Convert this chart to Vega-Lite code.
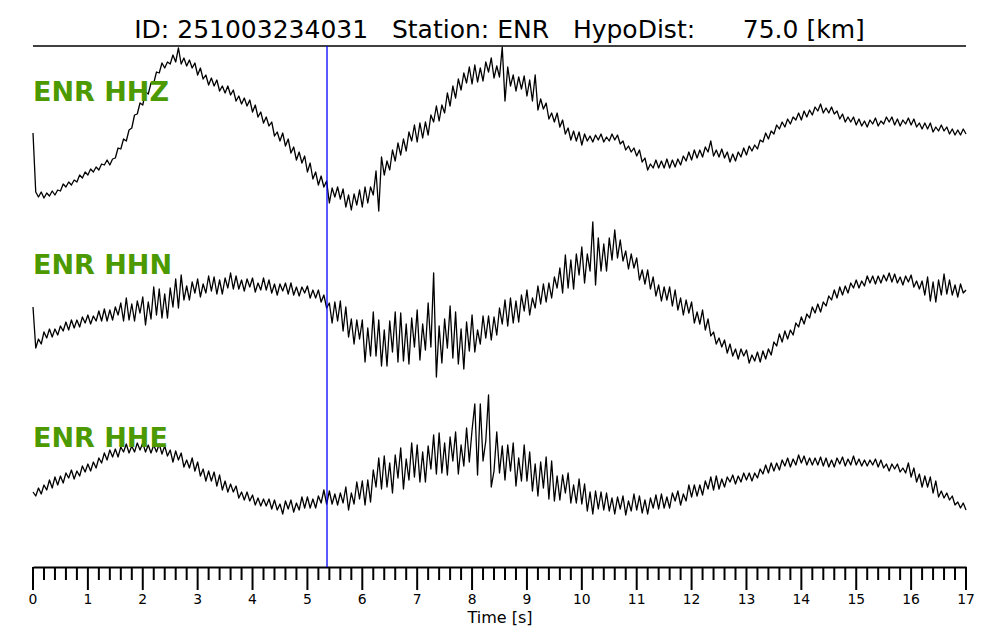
{
"$schema": "https://vega.github.io/schema/vega-lite/v6.json",
"width": 933, "height": 521,
"autosize": {"type": "none"},
"padding": {"left": 33, "top": 46, "right": 34, "bottom": 73},
"background": "white",
"config": {"view": {"stroke": null}},
"title": {"text": "ID: 251003234031\u00a0\u00a0\u00a0Station: ENR\u00a0\u00a0\u00a0HypoDist:\u00a0\u00a0\u00a0\u00a0\u00a0\u00a075.0 [km]", "font": "DejaVu Sans", "fontSize": 25, "fontWeight": "normal", "color": "black", "anchor": "middle", "frame": "group", "offset": 2},
"datasets": {
"major": [{"s":0},{"s":1},{"s":2},{"s":3},{"s":4},{"s":5},{"s":6},{"s":7},{"s":8},{"s":9},{"s":10},{"s":11},{"s":12},{"s":13},{"s":14},{"s":15},{"s":16},{"s":17}],
"minor": [{"s":0.2},{"s":0.4},{"s":0.6},{"s":0.8},{"s":1.2},{"s":1.4},{"s":1.6},{"s":1.8},{"s":2.2},{"s":2.4},{"s":2.6},{"s":2.8},{"s":3.2},{"s":3.4},{"s":3.6},{"s":3.8},{"s":4.2},{"s":4.4},{"s":4.6},{"s":4.8},{"s":5.2},{"s":5.4},{"s":5.6},{"s":5.8},{"s":6.2},{"s":6.4},{"s":6.6},{"s":6.8},{"s":7.2},{"s":7.4},{"s":7.6},{"s":7.8},{"s":8.2},{"s":8.4},{"s":8.6},{"s":8.8},{"s":9.2},{"s":9.4},{"s":9.6},{"s":9.8},{"s":10.2},{"s":10.4},{"s":10.6},{"s":10.8},{"s":11.2},{"s":11.4},{"s":11.6},{"s":11.8},{"s":12.2},{"s":12.4},{"s":12.6},{"s":12.8},{"s":13.2},{"s":13.4},{"s":13.6},{"s":13.8},{"s":14.2},{"s":14.4},{"s":14.6},{"s":14.8},{"s":15.2},{"s":15.4},{"s":15.6},{"s":15.8},{"s":16.2},{"s":16.4},{"s":16.6},{"s":16.8}],
"w": [
{"t":0,"z":0,"n":0,"e":-11},{"t":0.05,"z":-59,"n":-41,"e":-15},{"t":0.1,"z":-64,"n":-32,"e":-7},{"t":0.15,"z":-59,"n":-37,"e":-13},{"t":0.2,"z":-65,"n":-25,"e":-4},{"t":0.25,"z":-60,"n":-31,"e":-9},{"t":0.3,"z":-63,"n":-22,"e":1},{"t":0.35,"z":-58,"n":-30,"e":-7},{"t":0.4,"z":-62,"n":-22,"e":4},{"t":0.45,"z":-57,"n":-28,"e":-4},
{"t":0.5,"z":-58,"n":-19,"e":5},{"t":0.55,"z":-51,"n":-24,"e":-2},{"t":0.6,"z":-54,"n":-15,"e":8},{"t":0.65,"z":-49,"n":-23,"e":3},{"t":0.7,"z":-52,"n":-13,"e":11},{"t":0.75,"z":-47,"n":-21,"e":2},{"t":0.8,"z":-49,"n":-13,"e":10},{"t":0.85,"z":-42,"n":-20,"e":5},{"t":0.9,"z":-45,"n":-10,"e":15},{"t":0.95,"z":-39,"n":-16,"e":9},
{"t":1,"z":-42,"n":-8,"e":17},{"t":1.05,"z":-36,"n":-17,"e":10},{"t":1.1,"z":-39,"n":-9,"e":19},{"t":1.15,"z":-34,"n":-14,"e":13},{"t":1.2,"z":-37,"n":-4,"e":23},{"t":1.25,"z":-31,"n":-14,"e":18},{"t":1.3,"z":-32,"n":-2,"e":28},{"t":1.35,"z":-27,"n":-14,"e":21},{"t":1.4,"z":-32,"n":-3,"e":31},{"t":1.45,"z":-26,"n":-13,"e":24},
{"t":1.5,"z":-25,"n":0,"e":32},{"t":1.55,"z":-15,"n":-8,"e":24},{"t":1.6,"z":-16,"n":4,"e":34},{"t":1.65,"z":-6,"n":-14,"e":29},{"t":1.7,"z":-8,"n":9,"e":37},{"t":1.75,"z":3,"n":-13,"e":28},{"t":1.8,"z":5,"n":3,"e":35},{"t":1.85,"z":18,"n":-14,"e":29},{"t":1.9,"z":19,"n":6,"e":38},{"t":1.95,"z":30,"n":-6,"e":31},
{"t":2,"z":28,"n":10,"e":38},{"t":2.05,"z":41,"n":-18,"e":29},{"t":2.1,"z":39,"n":5,"e":36},{"t":2.15,"z":50,"n":-12,"e":28},{"t":2.2,"z":50,"n":20,"e":36},{"t":2.25,"z":61,"n":-8,"e":29},{"t":2.3,"z":60,"n":18,"e":37},{"t":2.35,"z":70,"n":-11,"e":27},{"t":2.4,"z":65,"n":13,"e":35},{"t":2.45,"z":71,"n":-11,"e":25},
{"t":2.5,"z":69,"n":19,"e":31},{"t":2.55,"z":78,"n":0,"e":19},{"t":2.6,"z":71,"n":28,"e":30},{"t":2.65,"z":85,"n":-1,"e":21},{"t":2.7,"z":69,"n":32,"e":28},{"t":2.75,"z":75,"n":7,"e":14},{"t":2.8,"z":67,"n":21,"e":21},{"t":2.85,"z":73,"n":7,"e":13},{"t":2.9,"z":65,"n":25,"e":23},{"t":2.95,"z":70,"n":14,"e":10},
{"t":3,"z":58,"n":28,"e":19},{"t":3.05,"z":65,"n":10,"e":5},{"t":3.1,"z":54,"n":23,"e":12},{"t":3.15,"z":58,"n":14,"e":0},{"t":3.2,"z":48,"n":31,"e":10},{"t":3.25,"z":55,"n":16,"e":0},{"t":3.3,"z":47,"n":30,"e":9},{"t":3.35,"z":53,"n":13,"e":-5},{"t":3.4,"z":42,"n":27,"e":6},{"t":3.45,"z":47,"n":13,"e":-9},
{"t":3.5,"z":40,"n":29,"e":0},{"t":3.55,"z":47,"n":19,"e":-11},{"t":3.6,"z":38,"n":34,"e":-3},{"t":3.65,"z":43,"n":18,"e":-11},{"t":3.7,"z":32,"n":31,"e":-5},{"t":3.75,"z":37,"n":18,"e":-17},{"t":3.8,"z":29,"n":27,"e":-11},{"t":3.85,"z":35,"n":16,"e":-19},{"t":3.9,"z":27,"n":28,"e":-11},{"t":3.95,"z":33,"n":20,"e":-20},
{"t":4,"z":21,"n":29,"e":-14},{"t":4.05,"z":28,"n":15,"e":-24},{"t":4.1,"z":16,"n":24,"e":-17},{"t":4.15,"z":21,"n":17,"e":-25},{"t":4.2,"z":10,"n":29,"e":-18},{"t":4.25,"z":16,"n":17,"e":-25},{"t":4.3,"z":7,"n":27,"e":-18},{"t":4.35,"z":11,"n":14,"e":-28},{"t":4.4,"z":-3,"n":23,"e":-19},{"t":4.45,"z":1,"n":12,"e":-29},
{"t":4.5,"z":-8,"n":23,"e":-23},{"t":4.55,"z":0,"n":16,"e":-33},{"t":4.6,"z":-13,"n":24,"e":-20},{"t":4.65,"z":-6,"n":13,"e":-28},{"t":4.7,"z":-20,"n":24,"e":-19},{"t":4.75,"z":-14,"n":12,"e":-31},{"t":4.8,"z":-27,"n":20,"e":-22},{"t":4.85,"z":-19,"n":11,"e":-29},{"t":4.9,"z":-30,"n":20,"e":-16},{"t":4.95,"z":-23,"n":14,"e":-27},
{"t":5,"z":-39,"n":21,"e":-16},{"t":5.05,"z":-30,"n":9,"e":-27},{"t":5.1,"z":-46,"n":17,"e":-18},{"t":5.15,"z":-39,"n":9,"e":-27},{"t":5.2,"z":-52,"n":17,"e":-15},{"t":5.25,"z":-43,"n":5,"e":-22},{"t":5.3,"z":-54,"n":12,"e":-9},{"t":5.35,"z":-48,"n":-1,"e":-23},{"t":5.4,"z":-70,"n":4,"e":-10},{"t":5.45,"z":-55,"n":-16,"e":-23},
{"t":5.5,"z":-64,"n":5,"e":-13},{"t":5.55,"z":-54,"n":-14,"e":-24},{"t":5.6,"z":-66,"n":6,"e":-12},{"t":5.65,"z":-56,"n":-24,"e":-22},{"t":5.7,"z":-74,"n":0,"e":-6},{"t":5.75,"z":-62,"n":-30,"e":-29},{"t":5.8,"z":-77,"n":-12,"e":-12},{"t":5.85,"z":-61,"n":-37,"e":-23},{"t":5.9,"z":-72,"n":-13,"e":-1},{"t":5.95,"z":-57,"n":-32,"e":-18},
{"t":6,"z":-74,"n":-13,"e":0},{"t":6.05,"z":-54,"n":-55,"e":-24},{"t":6.1,"z":-70,"n":-21,"e":1},{"t":6.15,"z":-54,"n":-49,"e":-21},{"t":6.2,"z":-62,"n":-5,"e":11},{"t":6.25,"z":-38,"n":-49,"e":-6},{"t":6.3,"z":-78,"n":-13,"e":23},{"t":6.35,"z":-24,"n":-59,"e":-8},{"t":6.4,"z":-42,"n":-23,"e":25},{"t":6.45,"z":-28,"n":-59,"e":-6},
{"t":6.5,"z":-37,"n":-14,"e":18},{"t":6.55,"z":-17,"n":-45,"e":-12},{"t":6.6,"z":-28,"n":-5,"e":26},{"t":6.65,"z":-10,"n":-55,"e":3},{"t":6.7,"z":-22,"n":-6,"e":33},{"t":6.75,"z":-6,"n":-54,"e":-8},{"t":6.8,"z":-18,"n":-17,"e":22},{"t":6.85,"z":1,"n":-57,"e":1},{"t":6.9,"z":-8,"n":-11,"e":38},{"t":6.95,"z":8,"n":-40,"e":4},
{"t":7,"z":-9,"n":-3,"e":36},{"t":7.05,"z":10,"n":-53,"e":-1},{"t":7.1,"z":-5,"n":-17,"e":29},{"t":7.15,"z":11,"n":-43,"e":-1},{"t":7.2,"z":-2,"n":4,"e":35},{"t":7.25,"z":18,"n":-40,"e":12},{"t":7.3,"z":11,"n":34,"e":46},{"t":7.35,"z":27,"n":-70,"e":7},{"t":7.4,"z":12,"n":-19,"e":48},{"t":7.45,"z":28,"n":-56,"e":8},
{"t":7.5,"z":20,"n":-12,"e":38},{"t":7.55,"z":40,"n":-41,"e":6},{"t":7.6,"z":27,"n":1,"e":44},{"t":7.65,"z":47,"n":-51,"e":20},{"t":7.7,"z":35,"n":-5,"e":49},{"t":7.75,"z":54,"n":-57,"e":7},{"t":7.8,"z":43,"n":-22,"e":36},{"t":7.85,"z":60,"n":-62,"e":15},{"t":7.9,"z":50,"n":-15,"e":53},{"t":7.95,"z":66,"n":-44,"e":19},
{"t":8,"z":49,"n":-8,"e":51},{"t":8.05,"z":68,"n":-45,"e":77},{"t":8.1,"z":51,"n":-23,"e":6},{"t":8.15,"z":65,"n":-37,"e":77},{"t":8.2,"z":52,"n":-9,"e":20},{"t":8.25,"z":71,"n":-31,"e":40},{"t":8.3,"z":61,"n":-9,"e":86},{"t":8.35,"z":75,"n":-33,"e":-6},{"t":8.4,"z":55,"n":-10,"e":10},{"t":8.45,"z":67,"n":-28,"e":49},
{"t":8.5,"z":56,"n":-1,"e":8},{"t":8.55,"z":86,"n":-17,"e":35},{"t":8.6,"z":32,"n":7,"e":1},{"t":8.65,"z":66,"n":-19,"e":36},{"t":8.7,"z":47,"n":9,"e":10},{"t":8.75,"z":58,"n":-16,"e":38},{"t":8.8,"z":42,"n":6,"e":-5},{"t":8.85,"z":56,"n":-15,"e":23},{"t":8.9,"z":44,"n":12,"e":0},{"t":8.95,"z":57,"n":-4,"e":36},
{"t":9,"z":37,"n":17,"e":0},{"t":9.05,"z":53,"n":-8,"e":29},{"t":9.1,"z":32,"n":9,"e":-10},{"t":9.15,"z":58,"n":-1,"e":17},{"t":9.2,"z":23,"n":21,"e":-15},{"t":9.25,"z":34,"n":3,"e":19},{"t":9.3,"z":24,"n":23,"e":-7},{"t":9.35,"z":30,"n":5,"e":24},{"t":9.4,"z":14,"n":24,"e":-18},{"t":9.45,"z":20,"n":9,"e":20},
{"t":9.5,"z":11,"n":30,"e":-20},{"t":9.55,"z":20,"n":19,"e":5},{"t":9.6,"z":6,"n":39,"e":-19},{"t":9.65,"z":13,"n":14,"e":6},{"t":9.7,"z":-1,"n":52,"e":-12},{"t":9.75,"z":5,"n":19,"e":8},{"t":9.8,"z":-7,"n":47,"e":-22},{"t":9.85,"z":2,"n":18,"e":-4},{"t":9.9,"z":-8,"n":53,"e":-22},{"t":9.95,"z":1,"n":32,"e":2},
{"t":10,"z":-12,"n":60,"e":-23},{"t":10.05,"z":-1,"n":24,"e":-3},{"t":10.1,"z":-8,"n":53,"e":-30},{"t":10.15,"z":-3,"n":36,"e":-11},{"t":10.2,"z":-9,"n":85,"e":-33},{"t":10.25,"z":-2,"n":22,"e":-10},{"t":10.3,"z":-7,"n":69,"e":-28},{"t":10.35,"z":-1,"n":36,"e":-11},{"t":10.4,"z":-9,"n":63,"e":-29},{"t":10.45,"z":-4,"n":36,"e":-12},
{"t":10.5,"z":-8,"n":69,"e":-30},{"t":10.55,"z":-1,"n":47,"e":-17},{"t":10.6,"z":-7,"n":77,"e":-33},{"t":10.65,"z":-2,"n":49,"e":-16},{"t":10.7,"z":-11,"n":67,"e":-28},{"t":10.75,"z":-8,"n":46,"e":-15},{"t":10.8,"z":-17,"n":56,"e":-34},{"t":10.85,"z":-13,"n":38,"e":-20},{"t":10.9,"z":-19,"n":53,"e":-30},{"t":10.95,"z":-15,"n":39,"e":-13},
{"t":11,"z":-23,"n":49,"e":-29},{"t":11.05,"z":-17,"n":27,"e":-15},{"t":11.1,"z":-29,"n":37,"e":-32},{"t":11.15,"z":-25,"n":23,"e":-19},{"t":11.2,"z":-37,"n":37,"e":-33},{"t":11.25,"z":-31,"n":18,"e":-17},{"t":11.3,"z":-35,"n":30,"e":-27},{"t":11.35,"z":-27,"n":11,"e":-14},{"t":11.4,"z":-35,"n":22,"e":-28},{"t":11.45,"z":-28,"n":6,"e":-13},
{"t":11.5,"z":-35,"n":20,"e":-27},{"t":11.55,"z":-26,"n":7,"e":-16},{"t":11.6,"z":-35,"n":20,"e":-27},{"t":11.65,"z":-27,"n":1,"e":-12},{"t":11.7,"z":-34,"n":17,"e":-20},{"t":11.75,"z":-26,"n":-3,"e":-10},{"t":11.8,"z":-32,"n":9,"e":-24},{"t":11.85,"z":-23,"n":-8,"e":-13},{"t":11.9,"z":-28,"n":7,"e":-20},{"t":11.95,"z":-19,"n":-6,"e":-4},
{"t":12,"z":-27,"n":5,"e":-16},{"t":12.05,"z":-17,"n":-16,"e":-4},{"t":12.1,"z":-25,"n":-5,"e":-15},{"t":12.15,"z":-17,"n":-17,"e":-4},{"t":12.2,"z":-24,"n":-3,"e":-14},{"t":12.25,"z":-14,"n":-23,"e":0},{"t":12.3,"z":-19,"n":-12,"e":-8},{"t":12.35,"z":-8,"n":-29,"e":4},{"t":12.4,"z":-23,"n":-25,"e":-9},{"t":12.45,"z":-17,"n":-37,"e":5},
{"t":12.5,"z":-24,"n":-31,"e":-8},{"t":12.55,"z":-16,"n":-40,"e":2},{"t":12.6,"z":-25,"n":-33,"e":-6},{"t":12.65,"z":-19,"n":-46,"e":4},{"t":12.7,"z":-29,"n":-37,"e":-1},{"t":12.75,"z":-21,"n":-49,"e":6},{"t":12.8,"z":-28,"n":-42,"e":-3},{"t":12.85,"z":-19,"n":-52,"e":5},{"t":12.9,"z":-24,"n":-42,"e":-1},{"t":12.95,"z":-15,"n":-49,"e":8},
{"t":13,"z":-22,"n":-43,"e":1},{"t":13.05,"z":-13,"n":-56,"e":8},{"t":13.1,"z":-18,"n":-48,"e":0},{"t":13.15,"z":-12,"n":-54,"e":8},{"t":13.2,"z":-16,"n":-45,"e":3},{"t":13.25,"z":-7,"n":-55,"e":12},{"t":13.3,"z":-9,"n":-44,"e":7},{"t":13.35,"z":0,"n":-52,"e":16},{"t":13.4,"z":-6,"n":-42,"e":8},{"t":13.45,"z":2,"n":-48,"e":18},
{"t":13.5,"z":-1,"n":-35,"e":10},{"t":13.55,"z":8,"n":-39,"e":18},{"t":13.6,"z":4,"n":-27,"e":11},{"t":13.65,"z":11,"n":-35,"e":21},{"t":13.7,"z":6,"n":-24,"e":15},{"t":13.75,"z":14,"n":-32,"e":23},{"t":13.8,"z":9,"n":-23,"e":14},{"t":13.85,"z":16,"n":-28,"e":22},{"t":13.9,"z":13,"n":-16,"e":16},{"t":13.95,"z":20,"n":-20,"e":26},
{"t":14,"z":13,"n":-10,"e":18},{"t":14.05,"z":22,"n":-17,"e":25},{"t":14.1,"z":16,"n":-7,"e":16},{"t":14.15,"z":23,"n":-11,"e":23},{"t":14.2,"z":18,"n":0,"e":16},{"t":14.25,"z":26,"n":-6,"e":23},{"t":14.3,"z":22,"n":3,"e":16},{"t":14.35,"z":29,"n":-5,"e":24},{"t":14.4,"z":20,"n":5,"e":15},{"t":14.45,"z":25,"n":1,"e":23},
{"t":14.5,"z":20,"n":11,"e":14},{"t":14.55,"z":26,"n":7,"e":21},{"t":14.6,"z":19,"n":17,"e":14},{"t":14.65,"z":22,"n":9,"e":23},{"t":14.7,"z":14,"n":20,"e":17},{"t":14.75,"z":19,"n":12,"e":24},{"t":14.8,"z":11,"n":21,"e":15},{"t":14.85,"z":16,"n":14,"e":22},{"t":14.9,"z":11,"n":24,"e":16},{"t":14.95,"z":16,"n":19,"e":25},
{"t":15,"z":8,"n":27,"e":16},{"t":15.05,"z":14,"n":19,"e":22},{"t":15.1,"z":7,"n":26,"e":15},{"t":15.15,"z":12,"n":21,"e":21},{"t":15.2,"z":6,"n":31,"e":15},{"t":15.25,"z":13,"n":24,"e":21},{"t":15.3,"z":9,"n":31,"e":16},{"t":15.35,"z":15,"n":23,"e":22},{"t":15.4,"z":7,"n":31,"e":14},{"t":15.45,"z":12,"n":24,"e":21},
{"t":15.5,"z":9,"n":32,"e":13},{"t":15.55,"z":16,"n":26,"e":17},{"t":15.6,"z":11,"n":34,"e":10},{"t":15.65,"z":16,"n":25,"e":17},{"t":15.7,"z":8,"n":33,"e":12},{"t":15.75,"z":14,"n":24,"e":17},{"t":15.8,"z":7,"n":30,"e":9},{"t":15.85,"z":13,"n":22,"e":13},{"t":15.9,"z":9,"n":31,"e":8},{"t":15.95,"z":15,"n":25,"e":18},
{"t":16,"z":8,"n":32,"e":4},{"t":16.05,"z":14,"n":20,"e":13},{"t":16.1,"z":6,"n":26,"e":-1},{"t":16.15,"z":10,"n":18,"e":7},{"t":16.2,"z":4,"n":26,"e":-6},{"t":16.25,"z":10,"n":12,"e":5},{"t":16.3,"z":4,"n":30,"e":-6},{"t":16.35,"z":10,"n":6,"e":4},{"t":16.4,"z":1,"n":25,"e":-12},{"t":16.45,"z":6,"n":5,"e":0},
{"t":16.5,"z":2,"n":27,"e":-16},{"t":16.55,"z":8,"n":12,"e":-10},{"t":16.6,"z":2,"n":33,"e":-17},{"t":16.65,"z":6,"n":13,"e":-12},{"t":16.7,"z":-1,"n":27,"e":-19},{"t":16.75,"z":4,"n":12,"e":-15},{"t":16.8,"z":-2,"n":22,"e":-24},{"t":16.85,"z":3,"n":10,"e":-21},{"t":16.9,"z":-2,"n":23,"e":-27},{"t":16.95,"z":4,"n":14,"e":-22},
{"t":17,"z":-1,"n":17,"e":-29}
]},
"layer": [
  {"data": {"name": "w"},
   "mark": {"type": "line", "color": "black", "strokeWidth": 1.3, "strokeJoin": "round", "clip": false},
   "encoding": {
    "x": {"field": "t", "type": "quantitative", "scale": {"domain": [0, 17], "nice": false, "zero": false},
      "axis": {"orient": "bottom", "values": [0, 17], "grid": false, "domain": true, "domainColor": "black", "domainWidth": 2, "ticks": false, "labels": false, "title": "Time [s]", "titleFont": "DejaVu Sans", "titleFontSize": 16, "titleFontWeight": "normal", "titleColor": "black", "titlePadding": 42}},
    "y": {"field": "z", "type": "quantitative", "scale": {"domain": [-434, 87], "nice": false, "zero": false}, "axis": null}
   }},
  {"data": {"values": [{"label": "ENR HHZ"}]},
   "mark": {"type": "text", "align": "left", "baseline": "alphabetic", "font": "DejaVu Sans", "fontWeight": "bold", "fontSize": 27, "color": "#4c9a00"},
   "encoding": {"x": {"datum": 0, "type": "quantitative"}, "y": {"datum": 32, "type": "quantitative", "scale": {"domain": [-434, 87], "nice": false, "zero": false}, "axis": null}, "text": {"field": "label"}}},
  {"data": {"values": [{"spine": "top"}]},
   "mark": {"type": "rule", "color": "black", "strokeWidth": 1.5},
   "encoding": {"y": {"datum": 87, "type": "quantitative", "scale": {"domain": [-434, 87], "nice": false, "zero": false}, "axis": null}}},
  {"data": {"name": "w"},
   "mark": {"type": "line", "color": "black", "strokeWidth": 1.3, "strokeJoin": "round", "clip": false},
   "encoding": {
    "x": {"field": "t", "type": "quantitative"},
    "y": {"field": "n", "type": "quantitative", "scale": {"domain": [-260, 261], "nice": false, "zero": false}, "axis": null}
   }},
  {"data": {"values": [{"label": "ENR HHN"}]},
   "mark": {"type": "text", "align": "left", "baseline": "alphabetic", "font": "DejaVu Sans", "fontWeight": "bold", "fontSize": 27, "color": "#4c9a00"},
   "encoding": {"x": {"datum": 0, "type": "quantitative"}, "y": {"datum": 33, "type": "quantitative", "scale": {"domain": [-260, 261], "nice": false, "zero": false}, "axis": null}, "text": {"field": "label"}}},
  {"data": {"name": "w"},
   "mark": {"type": "line", "color": "black", "strokeWidth": 1.3, "strokeJoin": "round", "clip": false},
   "encoding": {
    "x": {"field": "t", "type": "quantitative"},
    "y": {"field": "e", "type": "quantitative", "scale": {"domain": [-86, 435], "nice": false, "zero": false}, "axis": null}
   }},
  {"data": {"values": [{"label": "ENR HHE"}]},
   "mark": {"type": "text", "align": "left", "baseline": "alphabetic", "font": "DejaVu Sans", "fontWeight": "bold", "fontSize": 27, "color": "#4c9a00"},
   "encoding": {"x": {"datum": 0, "type": "quantitative"}, "y": {"datum": 34, "type": "quantitative", "scale": {"domain": [-86, 435], "nice": false, "zero": false}, "axis": null}, "text": {"field": "label"}}},
  {"data": {"name": "major"},
   "mark": {"type": "rule", "color": "black", "strokeWidth": 2, "clip": false},
   "encoding": {"x": {"field": "s", "type": "quantitative"},
    "y": {"datum": 0, "type": "quantitative", "scale": {"domain": [0, 521], "nice": false, "zero": false}, "axis": null},
    "y2": {"datum": -23}}},
  {"data": {"name": "minor"},
   "mark": {"type": "rule", "color": "black", "strokeWidth": 2, "clip": false},
   "encoding": {"x": {"field": "s", "type": "quantitative"},
    "y": {"datum": 0, "type": "quantitative", "scale": {"domain": [0, 521], "nice": false, "zero": false}, "axis": null},
    "y2": {"datum": -13}}},
  {"data": {"name": "major"},
   "mark": {"type": "text", "align": "center", "baseline": "top", "font": "DejaVu Sans", "fontSize": 13.9, "color": "black", "clip": false},
   "encoding": {"x": {"field": "s", "type": "quantitative"},
    "y": {"datum": -26, "type": "quantitative", "scale": {"domain": [0, 521], "nice": false, "zero": false}, "axis": null},
    "text": {"field": "s", "type": "quantitative", "format": "d"}}},
  {"data": {"values": [{"pick": 5.357}]},
   "mark": {"type": "rule", "color": "#0000ff", "strokeWidth": 1.3},
   "encoding": {"x": {"field": "pick", "type": "quantitative"}}}
],
"resolve": {"scale": {"y": "independent"}}
}
